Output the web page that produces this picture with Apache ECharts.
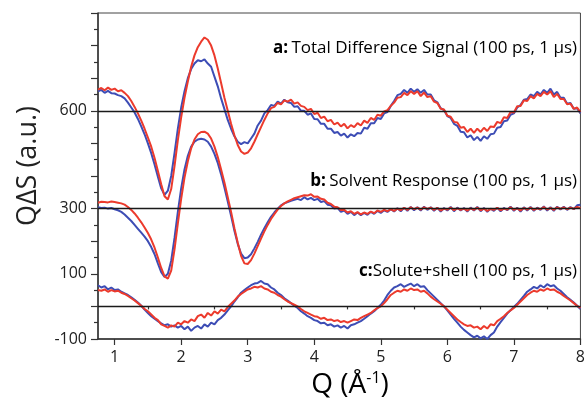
<!DOCTYPE html>
<html>
<head>
<meta charset="utf-8">
<script src="https://cdn.jsdelivr.net/npm/echarts@6/dist/echarts.min.js"></script>
<style>
  html, body { margin: 0; padding: 0; background: #fff; }
  #c_chart { width: 588px; height: 402px; }
</style>
</head>
<body>
<div id="c_chart"></div>
<script>
// Q grid: 0.75 .. 8.00, step 0.05 (146 points)
const qStart = 0.75;
const qStep = 0.05;

// a: total difference signal (offset +600)
const aBlue = [
  660, 664, 655, 661, 654, 653, 648, 645, 638, 625,
  610, 595, 575, 552, 528, 500, 470, 435, 398, 362,
  342, 355, 400, 470, 545, 610, 660, 700, 728, 745,
  755, 752, 758, 745, 735, 705, 675, 638, 605, 572,
  545, 522, 505, 498, 504, 500, 515, 530, 555, 570,
  592, 602, 618, 615, 628, 622, 634, 626, 624, 612,
  614, 600, 600, 588, 592, 575, 574, 560, 560, 545,
  545, 532, 535, 524, 530, 518, 528, 522, 532, 530,
  548, 545, 562, 562, 578, 575, 592, 596, 615, 630,
  648, 652, 664, 655, 668, 658, 666, 655, 664, 650,
  650, 632, 626, 608, 602, 584, 578, 560, 554, 536,
  534, 518, 525, 510, 520, 508, 522, 514, 528, 530,
  548, 550, 568, 570, 588, 592, 610, 618, 634, 636,
  650, 645, 658, 650, 664, 655, 668, 650, 658, 640,
  640, 622, 624, 606, 608, 592
];
const aRed = [
  665, 670, 663, 671, 664, 668, 660, 663, 655, 645,
  630, 612, 592, 570, 545, 518, 490, 455, 415, 375,
  338, 328, 360, 430, 510, 580, 640, 690, 735, 770,
  795, 812, 825, 818, 800, 770, 730, 685, 640, 600,
  560, 525, 495, 475, 468, 472, 485, 505, 528, 550,
  572, 592, 608, 612, 624, 620, 632, 628, 634, 622,
  626, 615, 612, 602, 606, 590, 594, 578, 582, 568,
  572, 558, 564, 552, 560, 546, 556, 550, 562, 555,
  570, 563, 578, 572, 588, 585, 598, 602, 615, 625,
  640, 642, 655, 648, 660, 652, 660, 645, 656, 642,
  645, 628, 624, 606, 604, 585, 582, 566, 564, 548,
  550, 535, 545, 532, 545, 535, 548, 538, 552, 550,
  566, 562, 580, 578, 596, 595, 614, 615, 632, 630,
  645, 638, 652, 645, 658, 650, 660, 642, 652, 636,
  636, 620, 622, 606, 610, 596
];

// b: solvent response (offset +300)
const bBlue = [
  304, 302, 303, 300, 302, 298, 295, 290, 282, 272,
  262, 250, 238, 226, 214, 200, 182, 160, 132, 105,
  90, 100, 140, 210, 290, 362, 420, 462, 490, 505,
  512, 514, 512, 505, 490, 468, 440, 405, 365, 322,
  278, 232, 192, 162, 148, 150, 160, 178, 198, 220,
  240, 258, 275, 288, 300, 310, 316, 320, 324, 327,
  330, 326, 335, 328, 333, 326, 330, 320, 323, 312,
  310, 300, 302, 290, 294, 284, 290, 280, 288, 280,
  287, 281, 290, 284, 293, 287, 295, 290, 298, 291,
  301, 292, 303, 293, 305, 295, 304, 294, 306, 296,
  304, 293, 303, 291, 302, 294, 305, 292, 303, 294,
  302, 291, 303, 294, 305, 292, 302, 290, 300, 293,
  303, 292, 302, 295, 306, 293, 303, 291, 304, 294,
  305, 293, 303, 296, 307, 294, 304, 293, 306, 297,
  306, 296, 305, 298, 310, 312
];
const bRed = [
  318, 321, 320, 319, 322, 320, 318, 316, 312, 305,
  296, 285, 272, 258, 242, 225, 205, 180, 150, 118,
  92, 85, 110, 175, 255, 330, 395, 445, 485, 512,
  528, 535, 536, 530, 515, 490, 458, 420, 380, 335,
  290, 240, 195, 155, 132, 130, 142, 162, 185, 208,
  230, 250, 268, 283, 297, 308, 316, 322, 327, 332,
  335, 338, 341, 340, 344, 336, 337, 330, 328, 318,
  314, 306, 304, 296, 296, 288, 292, 284, 289, 282,
  288, 284, 291, 286, 294, 290, 296, 292, 298, 293,
  300, 295, 302, 296, 304, 298, 303, 297, 304, 299,
  303, 296, 302, 294, 300, 297, 303, 295, 301, 296,
  300, 294, 301, 296, 303, 295, 300, 293, 299, 296,
  302, 295, 300, 297, 304, 296, 301, 294, 302, 297,
  303, 296, 301, 298, 305, 297, 302, 296, 304, 299,
  304, 298, 303, 299, 305, 302
];

// c: solute + shell (no offset)
const cBlue = [
  65, 58, 62, 52, 58, 50, 52, 45, 40, 35,
  28, 20, 12, 2, -10, -20, -30, -38, -45, -52,
  -58, -55, -62, -58, -65, -60, -70, -62, -75, -65,
  -60, -68, -55, -62, -50, -55, -42, -35, -25, -12,
  0, 15, 28, 42, 50, 58, 65, 70, 72, 78,
  70, 68, 58, 52, 42, 35, 25, 18, 10, 2,
  -5, -15, -22, -30, -35, -42, -45, -52, -50, -58,
  -55, -62, -58, -65, -60, -68, -58, -55, -50, -45,
  -38, -30, -22, -15, -5, 5, 18, 35, 48, 58,
  62, 68, 60, 65, 70, 62, 68, 60, 62, 50,
  40, 30, 20, 10, 0, -12, -25, -38, -50, -62,
  -72, -80, -88, -95, -90, -98, -92, -100, -88, -80,
  -62, -48, -35, -22, -12, -2, 8, 20, 32, 45,
  52, 60, 55, 65, 58, 68, 62, 65, 55, 48,
  38, 28, 20, 12, 2, -8
];
const cRed = [
  50, 48, 52, 45, 50, 46, 48, 42, 38, 32,
  25, 18, 10, 2, -8, -15, -25, -35, -42, -55,
  -60, -65, -58, -62, -50, -55, -45, -50, -40, -45,
  -30, -25, -35, -20, -28, -15, -22, -10, -15, -2,
  8, 18, 30, 38, 45, 52, 55, 60, 58, 62,
  55, 52, 45, 42, 35, 30, 22, 15, 10, 5,
  0, -8, -15, -20, -25, -30, -32, -38, -35, -42,
  -40, -45, -42, -48, -45, -50, -45, -40, -42, -35,
  -30, -25, -20, -12, -5, 0, 10, 22, 35, 42,
  48, 45, 52, 48, 55, 50, 52, 45, 48, 40,
  30, 22, 15, 8, 0, -10, -20, -30, -40, -48,
  -55, -60, -58, -65, -62, -70, -60, -68, -55, -58,
  -45, -38, -30, -20, -12, -5, 5, 15, 25, 35,
  42, 48, 45, 52, 48, 55, 50, 52, 45, 40,
  32, 25, 18, 10, 2, -5
];

const xTicks = [1, 2, 3, 4, 5, 6, 7, 8];
const xMinorTicks = [1.5, 2.5, 3.5, 4.5, 5.5, 6.5, 7.5];
const yLabels = [-100, 100, 300, 600];
const baseLines = [600, 300, 0];

const BLUE = '#3d4db5';
const RED = '#ec3a2c';

var dm = document.getElementById('c_chart');
var ch = echarts.init(dm, null, { renderer: 'canvas' });

function pairs(arr) {
  return arr.map((v, i) => [+(qStart + i * qStep).toFixed(2), v]);
}

function curve(name, arr, color, withLines) {
  var s = {
    name: name,
    type: 'line',
    data: pairs(arr),
    showSymbol: false,
    smooth: false,
    lineStyle: { color: color, width: 2 },
    itemStyle: { color: color },
    silent: true,
    z: 3
  };
  if (withLines) {
    s.markLine = {
      silent: true,
      symbol: 'none',
      label: { show: false },
      lineStyle: { color: '#1a1a1a', width: 1.3, type: 'solid' },
      data: baseLines.map((v) => ({ yAxis: v }))
    };
  }
  return s;
}

var font = '"Open Sans", "Noto Sans", sans-serif';
var fs = 17;
var note = {
  b: { fontWeight: 'bold', color: '#222', fontSize: fs, fontFamily: font },
  t: { color: '#222', fontSize: fs, fontFamily: font },
  bl: { color: BLUE, fontSize: fs, fontFamily: font },
  rd: { color: RED, fontSize: fs, fontFamily: font }
};

var option = {
  animation: false,
  backgroundColor: '#ffffff',
  grid: {
    left: 98,
    right: 6,
    top: 13,
    bottom: 63,
    show: true,
    borderColor: '#444',
    borderWidth: 1
  },
  xAxis: [
    {
      type: 'value',
      min: 0.75,
      max: 8,
      axisLine: { onZero: false, lineStyle: { color: '#333', width: 1.5 } },
      axisTick: { customValues: xTicks, length: 6, lineStyle: { color: '#333', width: 1.2 } },
      axisLabel: { customValues: xTicks, margin: 10, color: '#222', fontSize: 16, fontFamily: font },
      splitLine: { show: false }
    },
    {
      type: 'value',
      min: 0.75,
      max: 8,
      position: 'bottom',
      axisLine: { show: false },
      axisTick: { customValues: xMinorTicks, length: 3, lineStyle: { color: '#333', width: 1.2 } },
      axisLabel: { show: false },
      splitLine: { show: false }
    }
  ],
  yAxis: {
    type: 'value',
    min: -100,
    max: 900,
    interval: 100,
    axisLine: { show: true, onZero: false, lineStyle: { color: '#333', width: 1.5 } },
    axisTick: { show: true, length: 7, lineStyle: { color: '#333', width: 1.2 } },
    minorTick: { show: true, splitNumber: 2, length: 4, lineStyle: { color: '#333', width: 1.2 } },
    axisLabel: {
      margin: 11,
      color: '#222',
      fontSize: 16,
      fontFamily: font,
      formatter: (v) => (yLabels.indexOf(v) >= 0 ? String(v) : '')
    },
    splitLine: { show: false }
  },
  series: [
    curve('a 100 ps', aBlue, BLUE, true),
    curve('a 1 µs', aRed, RED, false),
    curve('b 100 ps', bBlue, BLUE, false),
    curve('b 1 µs', bRed, RED, false),
    curve('c 100 ps', cBlue, BLUE, false),
    curve('c 1 µs', cRed, RED, false)
  ],
  graphic: [
    {
      type: 'text', x: 577, y: 48,
      style: {
        text: '{b|a:} {t|Total Difference Signal (}{bl|100 ps}{t|, }{rd|1 µs}{t|)}',
        rich: note, align: 'right', verticalAlign: 'middle'
      },
      z: 10
    },
    {
      type: 'text', x: 577, y: 181,
      style: {
        text: '{b|b:} {t|Solvent Response (}{bl|100 ps}{t|, }{rd|1 µs}{t|)}',
        rich: note, align: 'right', verticalAlign: 'middle'
      },
      z: 10
    },
    {
      type: 'text', x: 577, y: 271,
      style: {
        text: '{b|c:}{t|Solute+shell (}{bl|100 ps}{t|, }{rd|1 µs}{t|)}',
        rich: note, align: 'right', verticalAlign: 'middle'
      },
      z: 10
    },
    {
      type: 'text', x: 28, y: 166, rotation: Math.PI / 2,
      style: {
        text: 'QΔS (a.u.)', fill: '#222', fontSize: 27, fontFamily: font,
        align: 'center', verticalAlign: 'middle'
      }
    },
    {
      type: 'text', x: 350, y: 385,
      style: {
        text: '{q|Q (Å}{s|-1}{q|)}',
        rich: {
          q: { fontSize: 28, color: '#222', fontFamily: font },
          s: { fontSize: 16, color: '#222', fontFamily: font, verticalAlign: 'top', padding: [0, 0, 14, 0] }
        },
        align: 'center', verticalAlign: 'middle'
      }
    }
  ]
};

ch.setOption(option);
window.onresize = function () {
  ch.resize();
};
</script>
</body>
</html>
